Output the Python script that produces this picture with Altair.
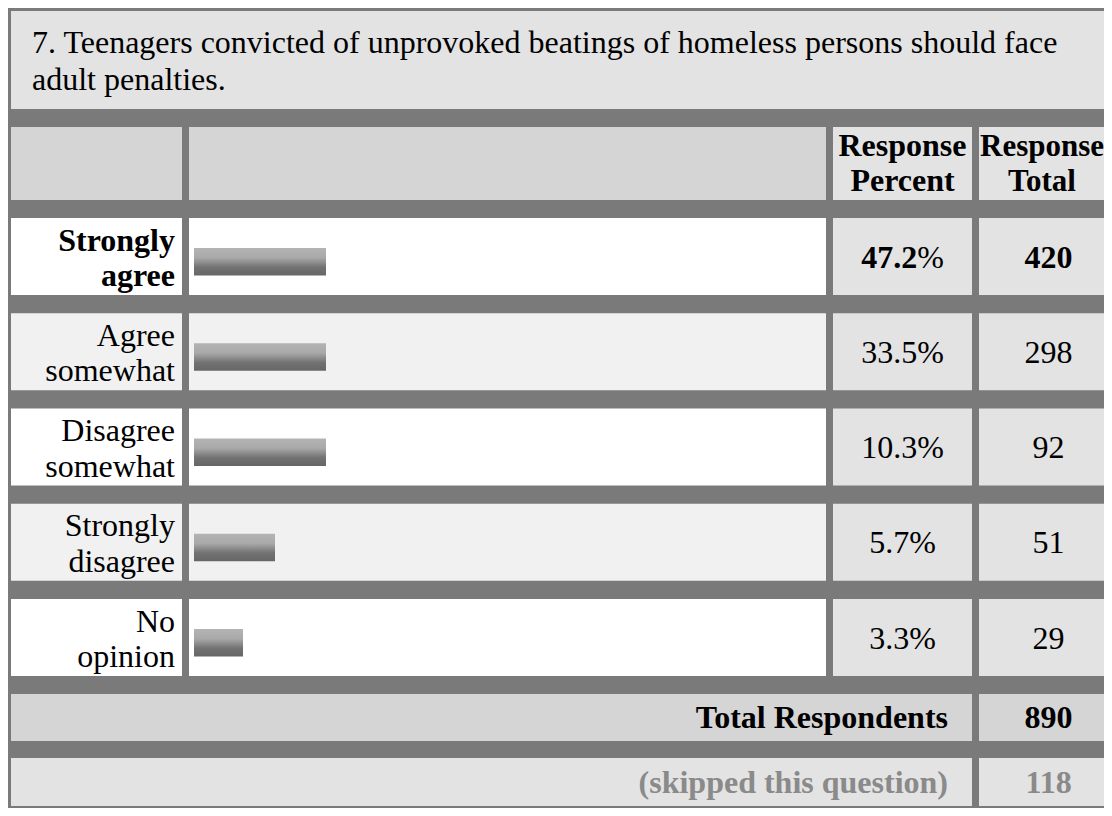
import altair as alt
import pandas as pd

# ---------------- data ----------------
question_lines = [
    "7. Teenagers convicted of unprovoked beatings of homeless persons should face",
    "adult penalties.",
]
header_labels = ["Response Percent", "Response Total"]
answers = ["Strongly agree", "Agree somewhat", "Disagree somewhat", "Strongly disagree", "No opinion"]
percents = [47.2, 33.5, 10.3, 5.7, 3.3]
totals = [420, 298, 92, 51, 29]
bar_lengths = [132, 132, 132, 81, 49]   # bar length as drawn in the survey graphic
total_respondents = 890
skipped_count = 118

# ---------------- layout / style ----------------
W, H = 1096, 800
FONT = "Liberation Serif"
FS = 32
BORDER = "#7a7a7a"
C_TITLE = "#e3e3e3"
C_HEAD = "#d5d5d5"
C_NUM = "#e3e3e3"
C_WHITE = "#ffffff"
C_ALT = "#f1f1f1"
C_SKIP_TXT = "#8a8a8a"

cols = [(3, 174), (181, 818), (825, 964), (971, 1110)]
title_box = (3, 101)
head_box = (119, 192)
row_top0, row_step, row_h = 210, 95.25, 77
total_box = (686, 733)
skip_box = (750, 798)

rows = [(row_top0 + i * row_step, row_top0 + i * row_step + row_h) for i in range(len(answers))]

# ---------------- cell rectangles ----------------
cells = []
def cell(x0, x1, y0, y1, fill):
    cells.append(dict(x=x0, x2=x1, y=y0, y2=y1, fill=fill))

cell(cols[0][0], cols[3][1], title_box[0], title_box[1], C_TITLE)
cell(*cols[0], *head_box, C_HEAD)
cell(*cols[1], *head_box, C_HEAD)
cell(*cols[2], *head_box, C_NUM)
cell(*cols[3], *head_box, C_NUM)
for i, (y0, y1) in enumerate(rows):
    bg = C_WHITE if i % 2 == 0 else C_ALT
    cell(*cols[0], y0, y1, bg)
    cell(*cols[1], y0, y1, bg)
    cell(*cols[2], y0, y1, C_NUM)
    cell(*cols[3], y0, y1, C_NUM)
cell(cols[0][0], cols[2][1], *total_box, C_HEAD)
cell(*cols[3], *total_box, C_HEAD)
cell(cols[0][0], cols[2][1], *skip_box, C_NUM)
cell(*cols[3], *skip_box, C_NUM)
cells_df = pd.DataFrame(cells)

xs = alt.Scale(domain=[0, W], range=[0, W], nice=False, zero=False)
ys = alt.Scale(domain=[0, H], range=[0, H], nice=False, zero=False)

rects = alt.Chart(cells_df).mark_rect().encode(
    x=alt.X("x:Q", scale=xs, axis=None),
    x2="x2:Q",
    y=alt.Y("y:Q", scale=ys, axis=None),
    y2="y2:Q",
    color=alt.Color("fill:N", scale=None),
)

# ---------------- bars ----------------
bar_x0 = cols[1][0] + 5
bars_df = pd.DataFrame({
    "answer": answers,
    "len": bar_lengths,
    "y0": [r[0] + 30 for r in rows],
    "y1": [r[0] + 57.5 for r in rows],
})
bars_df["x0"] = bar_x0
bars_df["x1"] = bar_x0 + bars_df["len"]
gradient = {
    "gradient": "linear", "x1": 0, "y1": 0, "x2": 0, "y2": 1,
    "stops": [
        {"offset": 0, "color": "#b4b4b4"},
        {"offset": 0.35, "color": "#a9a9a9"},
        {"offset": 0.7, "color": "#727272"},
        {"offset": 1, "color": "#666666"},
    ],
}
bars = alt.Chart(bars_df).mark_rect(color=gradient).encode(
    x=alt.X("x0:Q", scale=xs, axis=None), x2="x1:Q",
    y=alt.Y("y0:Q", scale=ys, axis=None), y2="y1:Q",
)

# ---------------- texts ----------------
def text_layer(records, align, bold=False, line_height=35.5, size=FS):
    df = pd.DataFrame(records)
    return alt.Chart(df).mark_text(
        align=align, baseline="alphabetic", font=FONT, fontSize=size,
        fontWeight="bold" if bold else "normal", lineBreak="\n", lineHeight=line_height,
    ).encode(
        x=alt.X("x:Q", scale=xs, axis=None),
        y=alt.Y("y:Q", scale=ys, axis=None),
        text="t:N",
        color=alt.Color("c:N", scale=None),
    )

def ctr(c):
    return (c[0] + c[1]) / 2

title_txt = text_layer(
    [dict(x=cols[0][0] + 21, y=title_box[0] + 41.5, t="\n".join(question_lines), c="#000000")],
    "left", line_height=37.4)

header_pct = text_layer(
    [dict(x=ctr(cols[2]), y=head_box[0] + 28.7, t=header_labels[0].replace(" ", "\n"), c="#000000")],
    "center", bold=True, line_height=35.6)
# last column is cut by the page edge: keep its header inside the visible area
header_tot = text_layer(
    [dict(x=(cols[3][0] + W) / 2 + 0.5, y=head_box[0] + 28.7, t=header_labels[1].replace(" ", "\n"), c="#000000")],
    "center", bold=True, line_height=35.6, size=31)

label_recs_b, label_recs_n = [], []
num_recs_n, num_recs_b = [], []
for i, (a, p, n) in enumerate(zip(answers, percents, totals)):
    y0 = rows[i][0]
    rec = dict(x=cols[0][1] - 7, y=y0 + 32.5, t="\n".join(a.split(" ", 1)), c="#000000")
    (label_recs_b if i == 0 else label_recs_n).append(rec)
    if i == 0:
        num_recs_b.append(dict(x=ctr(cols[3]), y=y0 + 49.5, t=str(n), c="#000000"))
    else:
        num_recs_n.append(dict(x=ctr(cols[2]), y=y0 + 49.5, t=f"{p:.1f}%", c="#000000"))
        num_recs_n.append(dict(x=ctr(cols[3]), y=y0 + 49.5, t=str(n), c="#000000"))

# first row percent: bold number + regular "%"
num_str = f"{percents[0]:.1f}"
w_num = sum(0.25 if ch == "." else 0.5 for ch in num_str) * FS
w_pct = 0.833 * FS
split_x = ctr(cols[2]) - (w_num + w_pct) / 2 + w_num
pct_bold = text_layer([dict(x=split_x, y=rows[0][0] + 49.5, t=num_str, c="#000000")], "right", bold=True)
pct_sign = text_layer([dict(x=split_x, y=rows[0][0] + 49.5, t="%", c="#000000")], "left")

labels_b = text_layer(label_recs_b, "right", bold=True)
labels_n = text_layer(label_recs_n, "right")
nums_b = text_layer(num_recs_b, "center", bold=True)
nums_n = text_layer(num_recs_n, "center")

foot_labels = text_layer([
    dict(x=cols[2][1] - 24, y=total_box[0] + 33.5, t="Total Respondents", c="#000000"),
    dict(x=cols[2][1] - 24, y=skip_box[0] + 34.5, t="(skipped this question)", c=C_SKIP_TXT),
], "right", bold=True)
foot_nums = text_layer([
    dict(x=ctr(cols[3]), y=total_box[0] + 33.5, t=str(total_respondents), c="#000000"),
    dict(x=ctr(cols[3]), y=skip_box[0] + 34.5, t=str(skipped_count), c=C_SKIP_TXT),
], "center", bold=True)

chart = alt.layer(
    rects, bars, title_txt, header_pct, header_tot, labels_b, labels_n, nums_b, nums_n,
    pct_bold, pct_sign, foot_labels, foot_nums,
).properties(
    width=W, height=H, padding=0, autosize="none", background=BORDER,
).configure_view(stroke=None)

chart.save("out.html", embed_options={"renderer": "svg", "actions": False})
